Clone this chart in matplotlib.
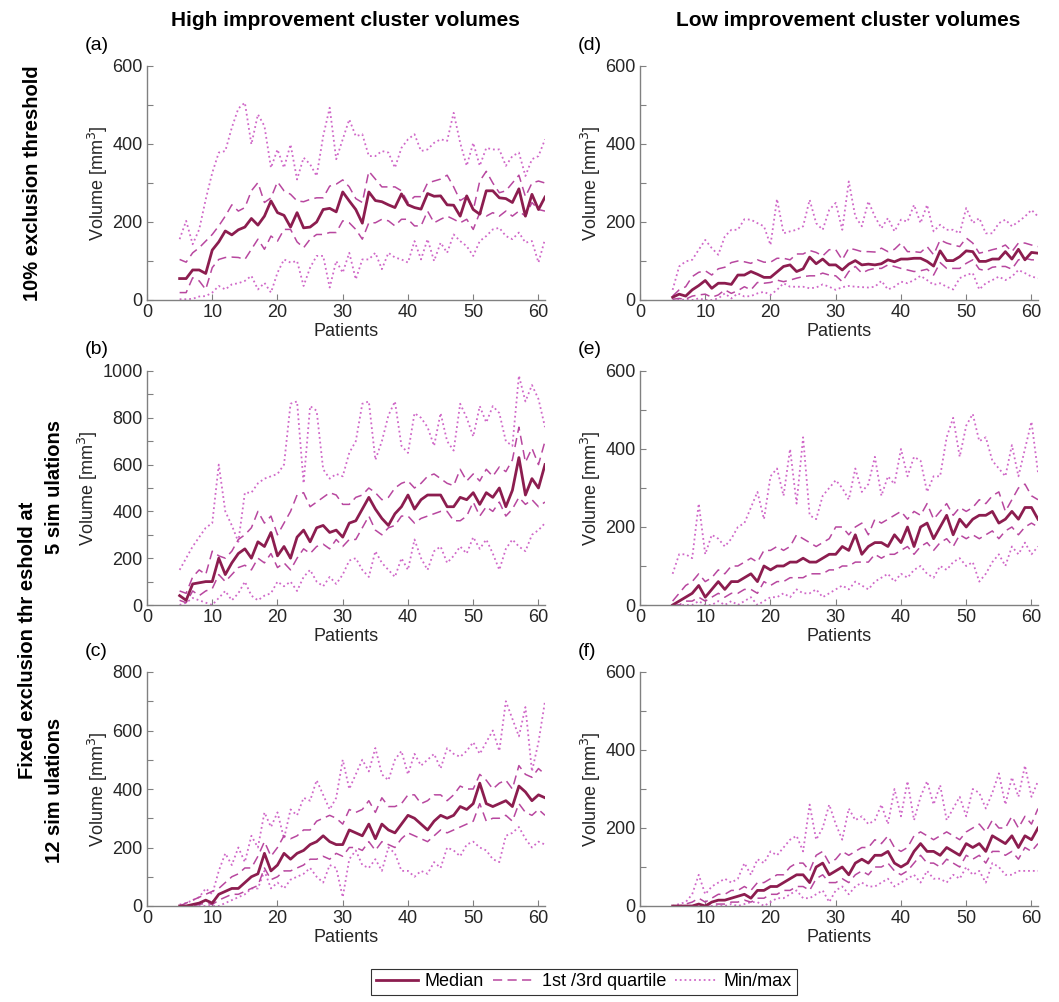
import numpy as np
import matplotlib.pyplot as plt

plt.rcParams.update({'font.family': ['Liberation Sans', 'DejaVu Sans']})
plt.rcParams.update({'font.size': 13})

# patients on the x axis (5..61)
patients = np.arange(5, 62)

# --------------------------------------------------
# (a) high improvement, 10% exclusion threshold
# --------------------------------------------------
a_med = [55, 55, 77, 77, 68, 128, 149, 177, 167, 180, 187, 209, 192, 215, 254, 224, 217, 187, 224, 185,
         187, 200, 232, 235, 226, 277, 254, 232, 197, 277, 255, 252, 244, 237, 272, 244, 237, 233, 273, 266,
         267, 244, 243, 215, 267, 232, 220, 280, 280, 262, 260, 250, 285, 215, 271, 232, 264]
a_q3 = [104, 97, 121, 134, 151, 168, 190, 215, 244, 228, 237, 280, 301, 250, 262, 303, 280, 271, 254, 252,
        258, 262, 262, 292, 297, 308, 290, 260, 250, 330, 310, 290, 290, 290, 280, 250, 265, 265, 300, 305,
        310, 320, 290, 255, 265, 230, 305, 330, 300, 275, 280, 300, 320, 265, 300, 305, 300]
a_q1 = [19, 19, 57, 49, 27, 83, 104, 109, 110, 109, 104, 130, 156, 130, 164, 151, 181, 181, 149, 134,
        156, 168, 168, 173, 173, 203, 198, 181, 156, 198, 198, 207, 203, 190, 207, 207, 190, 190, 228, 198,
        207, 215, 207, 198, 207, 181, 224, 215, 224, 215, 228, 215, 228, 215, 250, 232, 228]
a_max = [156, 203, 143, 181, 258, 326, 378, 382, 442, 491, 506, 399, 476, 446, 339, 386, 339, 399, 309, 365,
         348, 318, 420, 493, 361, 412, 463, 420, 425, 369, 369, 382, 378, 339, 390, 412, 425, 382, 386, 403,
         412, 408, 480, 403, 344, 403, 344, 390, 386, 386, 344, 369, 378, 318, 361, 369, 412]
a_min = [2, 2, 3, 9, 10, 19, 36, 27, 40, 43, 49, 62, 27, 44, 19, 70, 104, 96, 100, 36,
         83, 113, 113, 32, 100, 70, 121, 53, 104, 104, 121, 79, 121, 109, 104, 96, 151, 104, 156, 100,
         147, 121, 168, 151, 138, 113, 151, 164, 181, 185, 164, 156, 173, 147, 151, 96, 156]

# --------------------------------------------------
# (b) high improvement, fixed threshold at 5 simulations
# --------------------------------------------------
b_med = [40, 20, 90, 95, 100, 100, 200, 130, 180, 220, 240, 200, 270, 250, 310, 210, 250, 200, 290, 320,
         270, 330, 340, 310, 320, 290, 350, 360, 410, 460, 410, 370, 340, 390, 420, 470, 410, 450, 470, 470,
         470, 420, 420, 460, 450, 480, 430, 480, 460, 500, 420, 490, 630, 470, 540, 500, 600]
b_q3 = [60, 50, 120, 150, 130, 230, 210, 200, 230, 280, 300, 330, 400, 350, 380, 300, 350, 400, 470, 480,
        420, 440, 460, 480, 470, 430, 430, 460, 470, 500, 480, 450, 460, 500, 520, 530, 500, 520, 550, 560,
        540, 520, 510, 580, 530, 560, 530, 580, 550, 590, 570, 620, 760, 610, 670, 600, 700]
b_q1 = [20, 10, 60, 40, 60, 70, 130, 100, 130, 160, 170, 150, 200, 180, 220, 160, 180, 150, 200, 240,
        220, 250, 260, 240, 280, 250, 280, 280, 330, 380, 320, 300, 330, 340, 380, 380, 350, 370, 380, 390,
        400, 400, 360, 360, 380, 440, 380, 420, 400, 440, 380, 410, 460, 430, 450, 420, 440]
b_max = [150, 200, 250, 290, 330, 350, 600, 400, 340, 270, 480, 480, 520, 540, 550, 560, 600, 860, 870, 520,
         850, 830, 580, 540, 560, 550, 650, 700, 860, 870, 620, 700, 810, 870, 680, 650, 820, 800, 760, 680,
         820, 700, 660, 860, 800, 720, 850, 780, 850, 820, 700, 680, 980, 870, 940, 880, 760]
b_min = [0, 10, 30, 20, 10, 0, 30, 60, 20, 50, 100, 40, 20, 40, 50, 100, 80, 100, 60, 120,
         150, 100, 80, 120, 90, 130, 190, 200, 150, 120, 230, 180, 150, 120, 200, 150, 280, 200, 150, 230,
         250, 180, 210, 250, 220, 290, 240, 280, 220, 150, 240, 280, 250, 230, 300, 320, 350]

# --------------------------------------------------
# (c) high improvement, fixed threshold at 12 simulations
# --------------------------------------------------
c_med = [0, 0, 5, 10, 20, 10, 40, 50, 60, 60, 80, 100, 110, 180, 120, 140, 180, 160, 180, 190,
         210, 220, 240, 220, 210, 210, 260, 250, 240, 280, 230, 280, 260, 250, 280, 310, 300, 280, 260, 290,
         310, 300, 310, 340, 330, 350, 420, 350, 340, 350, 360, 340, 410, 390, 360, 380, 370]
c_q3 = [0, 10, 20, 30, 40, 50, 60, 80, 100, 110, 130, 130, 170, 220, 170, 200, 240, 230, 240, 260,
        260, 290, 300, 310, 300, 280, 330, 320, 330, 360, 320, 370, 340, 340, 350, 380, 380, 350, 360, 380,
        380, 360, 380, 410, 400, 400, 450, 430, 400, 420, 430, 400, 480, 450, 440, 470, 450]
c_q1 = [0, 0, 0, 5, 10, 5, 20, 30, 40, 40, 50, 60, 70, 130, 90, 100, 120, 120, 130, 140,
        160, 160, 170, 160, 180, 170, 200, 200, 190, 220, 190, 220, 210, 200, 230, 250, 240, 230, 220, 240,
        260, 250, 260, 270, 280, 290, 350, 290, 300, 300, 310, 290, 350, 320, 310, 330, 310]
c_max = [5, 10, 20, 30, 60, 40, 120, 180, 140, 200, 150, 240, 200, 320, 270, 320, 230, 330, 310, 370,
         360, 430, 380, 330, 370, 500, 400, 450, 500, 460, 540, 450, 430, 500, 530, 450, 520, 480, 500, 520,
         470, 540, 520, 510, 530, 560, 520, 560, 600, 530, 700, 640, 580, 680, 460, 560, 700]
c_min = [0, 0, 0, 0, 0, 0, 0, 10, 20, 30, 40, 60, 60, 120, 60, 80, 60, 90, 100, 110,
         130, 100, 80, 140, 130, 30, 160, 190, 140, 130, 160, 120, 200, 180, 120, 120, 100, 120, 110, 150,
         130, 200, 190, 170, 210, 220, 200, 190, 160, 150, 240, 250, 270, 230, 200, 220, 210]

# --------------------------------------------------
# (d) low improvement, 10% exclusion threshold
# --------------------------------------------------
d_med = [7, 15, 10, 26, 37, 50, 30, 43, 43, 40, 64, 64, 73, 66, 58, 58, 72, 86, 90, 73,
         80, 110, 93, 105, 90, 90, 77, 92, 101, 90, 92, 90, 93, 103, 98, 105, 105, 107, 107, 99,
         87, 126, 101, 101, 111, 126, 124, 99, 99, 105, 105, 124, 105, 130, 103, 122, 120]
d_q3 = [10, 26, 34, 60, 71, 75, 64, 80, 84, 96, 100, 98, 94, 103, 97, 97, 107, 107, 103, 118,
        118, 127, 122, 113, 129, 129, 103, 133, 129, 124, 124, 123, 133, 124, 130, 146, 124, 124, 122, 137,
        116, 154, 146, 141, 137, 159, 146, 120, 124, 129, 133, 141, 124, 146, 146, 141, 137]
d_q1 = [2, 4, 2, 10, 13, 15, 7, 13, 26, 17, 24, 34, 26, 45, 43, 45, 51, 47, 51, 56,
        60, 62, 62, 69, 64, 62, 47, 73, 86, 69, 77, 81, 81, 90, 86, 81, 77, 73, 75, 79,
        64, 96, 81, 81, 81, 94, 103, 79, 75, 84, 86, 86, 79, 103, 107, 103, 103]
d_max = [26, 86, 99, 103, 129, 154, 133, 116, 163, 180, 180, 207, 206, 197, 189, 141, 259, 171, 176, 180,
         189, 257, 197, 180, 231, 249, 180, 304, 214, 189, 253, 214, 184, 210, 176, 206, 201, 244, 197, 244,
         176, 193, 180, 180, 171, 236, 197, 210, 171, 171, 197, 206, 189, 201, 214, 231, 214]
d_min = [0, 2, 0, 0, 4, 0, 0, 4, 17, 4, 17, 9, 10, 17, 21, 13, 26, 43, 34, 34,
         34, 30, 32, 40, 34, 26, 33, 36, 34, 33, 32, 34, 49, 27, 34, 47, 43, 51, 62, 51,
         39, 43, 34, 27, 56, 64, 69, 27, 43, 51, 60, 51, 60, 77, 69, 60, 56]

# --------------------------------------------------
# (e) low improvement, fixed threshold at 5 simulations
# --------------------------------------------------
e_med = [0, 10, 20, 30, 50, 20, 40, 60, 40, 60, 60, 70, 80, 60, 100, 90, 100, 100, 110, 110,
         120, 110, 110, 120, 130, 130, 150, 140, 180, 130, 150, 160, 160, 150, 180, 160, 200, 150, 200, 210,
         170, 200, 230, 180, 220, 200, 220, 230, 230, 240, 210, 220, 240, 220, 250, 250, 220]
e_q3 = [10, 30, 50, 60, 80, 60, 70, 90, 80, 100, 100, 110, 120, 110, 140, 140, 150, 140, 150, 180,
        170, 160, 150, 160, 170, 200, 200, 180, 200, 210, 180, 220, 210, 220, 230, 240, 220, 240, 230, 260,
        220, 240, 260, 230, 250, 240, 250, 270, 260, 280, 290, 240, 270, 300, 310, 280, 270]
e_q1 = [0, 0, 10, 10, 20, 10, 20, 30, 20, 30, 30, 40, 40, 30, 60, 50, 60, 60, 70, 70,
        70, 80, 80, 80, 90, 90, 100, 100, 110, 110, 110, 130, 120, 130, 130, 140, 150, 130, 150, 160,
        140, 160, 170, 150, 180, 170, 180, 170, 180, 190, 170, 190, 200, 180, 200, 210, 200]
e_max = [80, 130, 130, 120, 260, 130, 180, 170, 150, 170, 200, 210, 250, 290, 220, 330, 350, 280, 400, 260,
         430, 230, 220, 280, 300, 320, 300, 270, 350, 290, 310, 380, 280, 330, 310, 400, 330, 380, 370, 290,
         330, 330, 430, 480, 380, 460, 490, 420, 430, 370, 350, 330, 410, 330, 400, 470, 340]
e_min = [0, 0, 0, 0, 10, 0, 0, 10, 0, 10, 0, 10, 20, 0, 10, 20, 20, 30, 20, 40,
         30, 30, 40, 20, 30, 40, 50, 40, 60, 50, 40, 60, 70, 80, 60, 80, 70, 90, 100, 80,
         70, 100, 90, 110, 120, 100, 110, 60, 80, 110, 130, 100, 150, 130, 160, 130, 150]

# --------------------------------------------------
# (f) low improvement, fixed threshold at 12 simulations
# --------------------------------------------------
f_med = [0, 0, 0, 0, 5, 0, 10, 15, 15, 20, 25, 30, 20, 40, 40, 50, 50, 60, 70, 80,
         80, 60, 100, 110, 80, 90, 100, 80, 110, 120, 110, 130, 130, 140, 110, 100, 110, 140, 160, 140,
         140, 130, 150, 140, 130, 160, 150, 160, 140, 180, 170, 160, 180, 150, 180, 170, 200]
f_q3 = [0, 0, 5, 10, 20, 10, 20, 30, 30, 40, 40, 50, 40, 60, 60, 70, 80, 80, 100, 110,
        110, 90, 130, 140, 110, 120, 140, 130, 140, 150, 150, 170, 160, 180, 150, 140, 150, 180, 190, 180,
        170, 180, 190, 180, 170, 190, 200, 210, 190, 220, 200, 200, 230, 200, 230, 210, 250]
f_q1 = [0, 0, 0, 0, 0, 0, 5, 5, 5, 10, 10, 15, 10, 20, 20, 30, 30, 40, 40, 50,
        50, 40, 70, 80, 60, 60, 70, 60, 80, 90, 80, 100, 100, 110, 90, 80, 90, 110, 130, 110,
        110, 100, 120, 110, 100, 130, 120, 130, 110, 140, 140, 130, 140, 120, 150, 140, 160]
f_max = [0, 5, 10, 30, 80, 30, 50, 60, 70, 60, 70, 110, 80, 120, 110, 140, 130, 150, 170, 180,
         140, 260, 170, 200, 260, 210, 170, 250, 220, 230, 210, 220, 260, 210, 300, 230, 320, 220, 280, 320,
         260, 310, 220, 250, 280, 230, 300, 290, 250, 290, 340, 260, 330, 280, 360, 280, 320]
f_min = [0, 0, 0, 0, 0, 0, 0, 0, 0, 5, 0, 5, 10, 10, 0, 10, 20, 20, 30, 40,
         20, 20, 30, 40, 10, 40, 50, 30, 50, 60, 50, 50, 60, 70, 50, 60, 70, 80, 60, 90,
         70, 70, 60, 80, 70, 100, 80, 90, 60, 110, 100, 80, 80, 90, 90, 90, 90]

panels = [
    # letter, series, ylim top, left px, bottom px
    ('(a)', (a_med, a_q1, a_q3, a_min, a_max), 600, 147, 300),
    ('(b)', (b_med, b_q1, b_q3, b_min, b_max), 1000, 147, 605),
    ('(c)', (c_med, c_q1, c_q3, c_min, c_max), 800, 147, 906),
    ('(d)', (d_med, d_q1, d_q3, d_min, d_max), 600, 640, 300),
    ('(e)', (e_med, e_q1, e_q3, e_min, e_max), 600, 640, 605),
    ('(f)', (f_med, f_q1, f_q3, f_min, f_max), 600, 640, 906),
]

W, H = 1059, 1002
col_med = '#8c1d4f'
col_q = '#b8479f'
col_mm = '#d068c8'
col_ax = '#808080'
col_txt = '#262626'
dash = (0, (6, 3.5))

fig = plt.figure(figsize=(W / 100, H / 100), dpi=100)

for letter, (med, q1, q3, mn, mx), ytop, left_px, bot_px in panels:
    ax = fig.add_axes([left_px / W, 1 - bot_px / H, 398 / W, 234 / H])
    ax.plot(patients, mx, color=col_mm, linestyle=':', linewidth=1.3)
    ax.plot(patients, mn, color=col_mm, linestyle=':', linewidth=1.3)
    ax.plot(patients, q3, color=col_q, linestyle=dash, linewidth=1.1)
    ax.plot(patients, q1, color=col_q, linestyle=dash, linewidth=1.1)
    ax.plot(patients, med, color=col_med, linestyle='-', linewidth=2.0)

    ax.set_xlim(0, 61)
    ax.set_ylim(0, ytop)
    ax.set_xticks(np.arange(0, 61, 10))
    ax.set_yticks(np.arange(0, ytop + 1, 200))
    ax.set_yticks(np.arange(0, ytop + 1, 100), minor=True)
    ax.tick_params(direction='in', length=4, width=0.8, colors=col_ax, labelcolor=col_txt,
                   labelsize=13, pad=3)
    ax.tick_params(which='minor', direction='in', length=4, width=0.8, colors=col_ax)
    for side in ('top', 'right'):
        ax.spines[side].set_visible(False)
    for side in ('left', 'bottom'):
        ax.spines[side].set_color(col_ax)
        ax.spines[side].set_linewidth(1.0)
    ax.set_xlabel('Patients', fontsize=13, color=col_txt, labelpad=1)
    ax.set_ylabel('Volume [mm$^3$]', fontsize=13, color=col_txt, labelpad=2)

    fig.text((left_px - 62) / W, 1 - (bot_px - 255) / H, letter, fontsize=14, color='black', va='center')

# column titles
fig.text(345 / W, 1 - 20 / H, 'High improvement cluster volumes', fontsize=15, fontweight='bold',
         ha='center', va='center')
fig.text(848 / W, 1 - 20 / H, 'Low improvement cluster volumes', fontsize=15, fontweight='bold',
         ha='center', va='center')

# row labels
fig.text(33 / W, 1 - 183 / H, '10% exclusion threshold', fontsize=14.5, fontweight='bold',
         rotation=90, ha='center', va='center')
fig.text(28 / W, 1 - 640 / H, 'Fixed exclusion thr eshold at', fontsize=14.5, fontweight='bold',
         rotation=90, ha='center', va='center')
fig.text(55 / W, 1 - 487 / H, '5 sim ulations', fontsize=14.5, fontweight='bold',
         rotation=90, ha='center', va='center')
fig.text(55 / W, 1 - 790 / H, '12 sim ulations', fontsize=14.5, fontweight='bold',
         rotation=90, ha='center', va='center')

# legend
handles = [
    plt.Line2D([], [], color=col_med, linestyle='-', linewidth=2.0),
    plt.Line2D([], [], color=col_q, linestyle=dash, linewidth=1.1),
    plt.Line2D([], [], color=col_mm, linestyle=':', linewidth=1.3),
]
leg = fig.legend(handles, ['Median', '1st /3rd quartile', 'Min/max'], loc='center',
                 bbox_to_anchor=(584 / W, 1 - 982 / H), ncol=3, fontsize=13, frameon=True,
                 fancybox=False, edgecolor='black', handlelength=2.3, columnspacing=0.5,
                 handletextpad=0.4, borderpad=0.25, borderaxespad=0)
leg.get_frame().set_linewidth(0.8)

fig.savefig('out.png', dpi=100)
